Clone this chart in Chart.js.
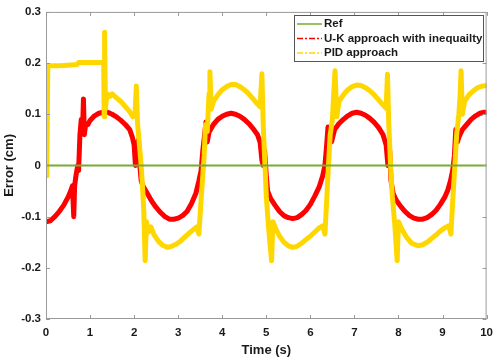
<!DOCTYPE html>
<html>
<head>
<meta charset="utf-8">
<script src="https://cdn.jsdelivr.net/npm/chart.js@4.4.1/dist/chart.umd.min.js"></script>
<style>
  html, body { margin: 0; padding: 0; background: #fff; }
  #wrap { width: 500px; height: 362px; }
</style>
</head>
<body>
<div id="wrap"><canvas id="errChart" width="500" height="362"></canvas></div>
<script>
// Error vs time
const seriesNames = ['Ref', 'U-K approach with inequailty', 'PID approach'];

const refT = [0, 10];
const refV = [0, 0];

const ukT = [0.00, 0.10, 0.20, 0.30, 0.40, 0.50, 0.56, 0.60, 0.63, 0.65, 0.68, 0.72, 0.74, 0.77, 0.80, 0.83, 0.85, 0.87, 0.90, 0.95,
  1.00, 1.10, 1.20, 1.30, 1.40, 1.50, 1.60, 1.70, 1.80, 1.90, 1.96, 2.00, 2.03, 2.06, 2.10, 2.13, 2.16, 2.20, 2.30, 2.40,
  2.50, 2.60, 2.70, 2.80, 2.90, 3.00, 3.10, 3.20, 3.30, 3.40, 3.47, 3.52, 3.56, 3.60, 3.63, 3.66, 3.70, 3.80, 3.90, 4.00,
  4.10, 4.20, 4.30, 4.40, 4.50, 4.60, 4.70, 4.80, 4.86, 4.90, 4.93, 4.96, 5.00, 5.03, 5.10, 5.20, 5.30, 5.40, 5.50, 5.60,
  5.70, 5.80, 5.90, 6.00, 6.10, 6.20, 6.28, 6.33, 6.37, 6.40, 6.44, 6.48, 6.55, 6.65, 6.75, 6.85, 6.95, 7.05, 7.15, 7.25,
  7.35, 7.45, 7.55, 7.65, 7.72, 7.76, 7.80, 7.83, 7.88, 7.95, 8.05, 8.15, 8.25, 8.35, 8.45, 8.55, 8.65, 8.75, 8.85, 8.95,
  9.05, 9.12, 9.18, 9.23, 9.27, 9.30, 9.34, 9.37, 9.45, 9.55, 9.65, 9.75, 9.85, 9.95, 10.00];
const ukV = [-0.110, -0.108, -0.100, -0.090, -0.078, -0.062, -0.050, -0.040, -0.100, -0.040, -0.020, 0.000, -0.010, 0.060, 0.090, 0.070, 0.130, 0.060, 0.080, 0.080,
  0.088, 0.097, 0.102, 0.104, 0.104, 0.100, 0.095, 0.088, 0.080, 0.070, 0.055, 0.040, 0.000, 0.040, 0.050, 0.000, -0.030, -0.040, -0.055, -0.070,
  -0.082, -0.092, -0.100, -0.105, -0.105, -0.103, -0.098, -0.090, -0.075, -0.055, -0.030, -0.010, 0.030, 0.060, 0.085, 0.046, 0.065, 0.080, 0.090, 0.096,
  0.100, 0.102, 0.100, 0.096, 0.090, 0.082, 0.072, 0.060, 0.045, 0.010, 0.000, 0.030, -0.020, -0.050, -0.065, -0.078, -0.090, -0.098, -0.102, -0.104,
  -0.102, -0.096, -0.088, -0.076, -0.060, -0.042, -0.020, 0.000, 0.040, 0.075, 0.060, 0.046, 0.070, 0.082, 0.090, 0.097, 0.102, 0.104, 0.102, 0.098,
  0.092, 0.084, 0.074, 0.060, 0.040, 0.000, 0.030, -0.030, -0.055, -0.068, -0.080, -0.090, -0.098, -0.103, -0.105, -0.105, -0.102, -0.096, -0.088, -0.076,
  -0.062, -0.048, -0.030, -0.010, 0.020, 0.070, 0.046, 0.055, 0.070, 0.080, 0.090, 0.097, 0.102, 0.104, 0.103];

const pidT = [0.00, 0.02, 0.04, 0.06, 0.30, 0.50, 0.70, 0.74, 1.00, 1.28, 1.31, 1.32, 1.33, 1.35, 1.38, 1.45, 1.50, 1.60, 1.70, 1.80,
  1.90, 1.97, 2.02, 2.05, 2.08, 2.12, 2.16, 2.19, 2.22, 2.25, 2.28, 2.32, 2.38, 2.45, 2.55, 2.65, 2.75, 2.85, 2.95, 3.05,
  3.15, 3.25, 3.35, 3.42, 3.47, 3.51, 3.55, 3.59, 3.62, 3.66, 3.70, 3.72, 3.75, 3.80, 3.90, 4.00, 4.10, 4.20, 4.30, 4.40,
  4.50, 4.60, 4.70, 4.80, 4.86, 4.90, 4.93, 4.97, 5.00, 5.05, 5.12, 5.15, 5.22, 5.30, 5.40, 5.50, 5.60, 5.70, 5.80, 5.90,
  6.00, 6.10, 6.20, 6.28, 6.33, 6.37, 6.41, 6.45, 6.50, 6.53, 6.56, 6.60, 6.65, 6.75, 6.85, 6.95, 7.05, 7.15, 7.25, 7.35,
  7.45, 7.55, 7.65, 7.72, 7.75, 7.78, 7.82, 7.86, 7.92, 7.97, 8.00, 8.08, 8.18, 8.30, 8.44, 8.55, 8.65, 8.75, 8.85, 8.95,
  9.05, 9.14, 9.19, 9.23, 9.28, 9.32, 9.37, 9.40, 9.42, 9.45, 9.50, 9.60, 9.70, 9.80, 9.90, 10.00];
const pidV = [-0.020, 0.000, 0.190, 0.195, 0.195, 0.196, 0.197, 0.201, 0.201, 0.201, 0.200, 0.095, 0.260, 0.110, 0.140, 0.135, 0.140, 0.132, 0.125, 0.115,
  0.105, 0.095, 0.100, 0.155, 0.080, 0.040, 0.000, -0.040, -0.090, -0.186, -0.110, -0.130, -0.120, -0.135, -0.148, -0.156, -0.160, -0.158, -0.154, -0.148,
  -0.140, -0.132, -0.125, -0.120, -0.134, -0.080, -0.030, 0.020, 0.080, 0.066, 0.140, 0.183, 0.110, 0.125, 0.138, 0.148, 0.154, 0.158, 0.158, 0.154,
  0.148, 0.140, 0.130, 0.120, 0.115, 0.179, 0.080, 0.000, -0.060, -0.120, -0.186, -0.110, -0.125, -0.138, -0.150, -0.157, -0.160, -0.158, -0.152, -0.145,
  -0.138, -0.130, -0.122, -0.118, -0.134, -0.070, 0.000, 0.060, 0.090, 0.140, 0.185, 0.095, 0.125, 0.138, 0.148, 0.154, 0.157, 0.156, 0.152, 0.146,
  0.138, 0.128, 0.118, 0.112, 0.178, 0.080, 0.000, -0.060, -0.120, -0.186, -0.110, -0.125, -0.140, -0.152, -0.157, -0.155, -0.150, -0.143, -0.136, -0.128,
  -0.122, -0.118, -0.134, -0.070, 0.000, 0.060, 0.100, 0.140, 0.185, 0.100, 0.125, 0.138, 0.146, 0.152, 0.155, 0.156];

const xTicks = [0, 1, 2, 3, 4, 5, 6, 7, 8, 9, 10];
const yTicks = [-0.3, -0.2, -0.1, 0, 0.1, 0.2, 0.3];

const colRef = '#77AC30';
const colUK = '#FF0000';
const colPID = '#FFD700';
const axisGray = '#9a9a9a';
const textCol = '#1a1a1a';
const fontFam = '"Liberation Sans", Arial, sans-serif';

function pts(t, v) { return t.map((x, i) => ({ x: x, y: v[i] })); }

// matlab style box, inward ticks and legend
const matlabFrame = {
  id: 'matlabFrame',
  afterDraw(chart) {
    const ctx = chart.ctx;
    const a = chart.chartArea;
    const xs = chart.scales.x, ys = chart.scales.y;
    ctx.save();
    ctx.strokeStyle = axisGray;
    ctx.lineWidth = 1;
    ctx.strokeRect(a.left + 0.5, a.top + 0.5, a.right - a.left - 1, a.bottom - a.top - 1);
    ctx.beginPath();
    xTicks.forEach(v => {
      const px = Math.round(xs.getPixelForValue(v)) + 0.5;
      ctx.moveTo(px, a.bottom); ctx.lineTo(px, a.bottom - 4);
      ctx.moveTo(px, a.top); ctx.lineTo(px, a.top + 4);
    });
    yTicks.forEach(v => {
      const py = Math.round(ys.getPixelForValue(v)) + 0.5;
      ctx.moveTo(a.left, py); ctx.lineTo(a.left + 4, py);
      ctx.moveTo(a.right, py); ctx.lineTo(a.right - 4, py);
    });
    ctx.stroke();

    // legend
    const lx = 294, ly = 15, lw = 189, lh = 46;
    ctx.fillStyle = '#fff';
    ctx.fillRect(lx, ly, lw, lh);
    ctx.strokeStyle = '#555';
    ctx.strokeRect(lx + 0.5, ly + 0.5, lw, lh);
    const rows = [
      { c: colRef, dash: [] },
      { c: colUK, dash: [6, 2, 2, 2] },
      { c: colPID, dash: [6, 2, 2, 2] }
    ];
    ctx.font = 'bold 11.5px ' + fontFam;
    ctx.textBaseline = 'middle';
    rows.forEach((r, i) => {
      const y = ly + 9 + i * 14.5;
      ctx.strokeStyle = r.c;
      ctx.lineWidth = 1.5;
      ctx.setLineDash(r.dash);
      ctx.beginPath();
      ctx.moveTo(lx + 3, y); ctx.lineTo(lx + 28, y);
      ctx.stroke();
      ctx.setLineDash([]);
      ctx.fillStyle = textCol;
      ctx.fillText(seriesNames[i], lx + 30, y);
    });
    ctx.restore();
  }
};

new Chart(document.getElementById('errChart'), {
  type: 'line',
  data: {
    datasets: [
      { label: seriesNames[0], data: pts(refT, refV), borderColor: colRef, borderWidth: 2, pointRadius: 0 },
      { label: seriesNames[2], data: pts(pidT, pidV), borderColor: colPID, borderWidth: 5,
        borderJoinStyle: 'round', borderCapStyle: 'round', pointRadius: 0 },
      { label: seriesNames[1], data: pts(ukT, ukV), borderColor: colUK, borderWidth: 5,
        borderJoinStyle: 'round', borderCapStyle: 'round', pointRadius: 0 }
    ]
  },
  options: {
    responsive: false,
    animation: false,
    devicePixelRatio: 1,
    layout: { padding: { left: 0, right: 11, top: 9, bottom: 0 } },
    plugins: {
      legend: { display: false },
      tooltip: { enabled: false }
    },
    scales: {
      x: {
        type: 'linear',
        min: 0, max: 10,
        afterFit(s) { s.height = 43; },
        afterBuildTicks(s) { s.ticks = xTicks.map(v => ({ value: v })); },
        grid: { display: false, drawTicks: false },
        border: { display: false },
        ticks: {
          padding: 7, maxRotation: 0, autoSkip: false,
          color: textCol, font: { family: fontFam, size: 11.5, weight: 'bold' }
        },
        title: {
          display: true, text: 'Time (s)', color: textCol,
          padding: { top: 0, bottom: 4 },
          font: { family: fontFam, size: 13, weight: 'bold' }
        }
      },
      y: {
        min: -0.3, max: 0.3,
        afterFit(s) { s.width = 46; },
        afterBuildTicks(s) { s.ticks = yTicks.map(v => ({ value: v })); },
        grid: { display: false, drawTicks: false },
        border: { display: false },
        ticks: {
          padding: 5, autoSkip: false,
          color: textCol, font: { family: fontFam, size: 11.5, weight: 'bold' },
          callback: v => String(Math.round(v * 10) / 10)
        },
        title: {
          display: true, text: 'Error (cm)', color: textCol,
          padding: { top: 2, bottom: 0 },
          font: { family: fontFam, size: 13, weight: 'bold' }
        }
      }
    }
  },
  plugins: [matlabFrame]
});
</script>
</body>
</html>
